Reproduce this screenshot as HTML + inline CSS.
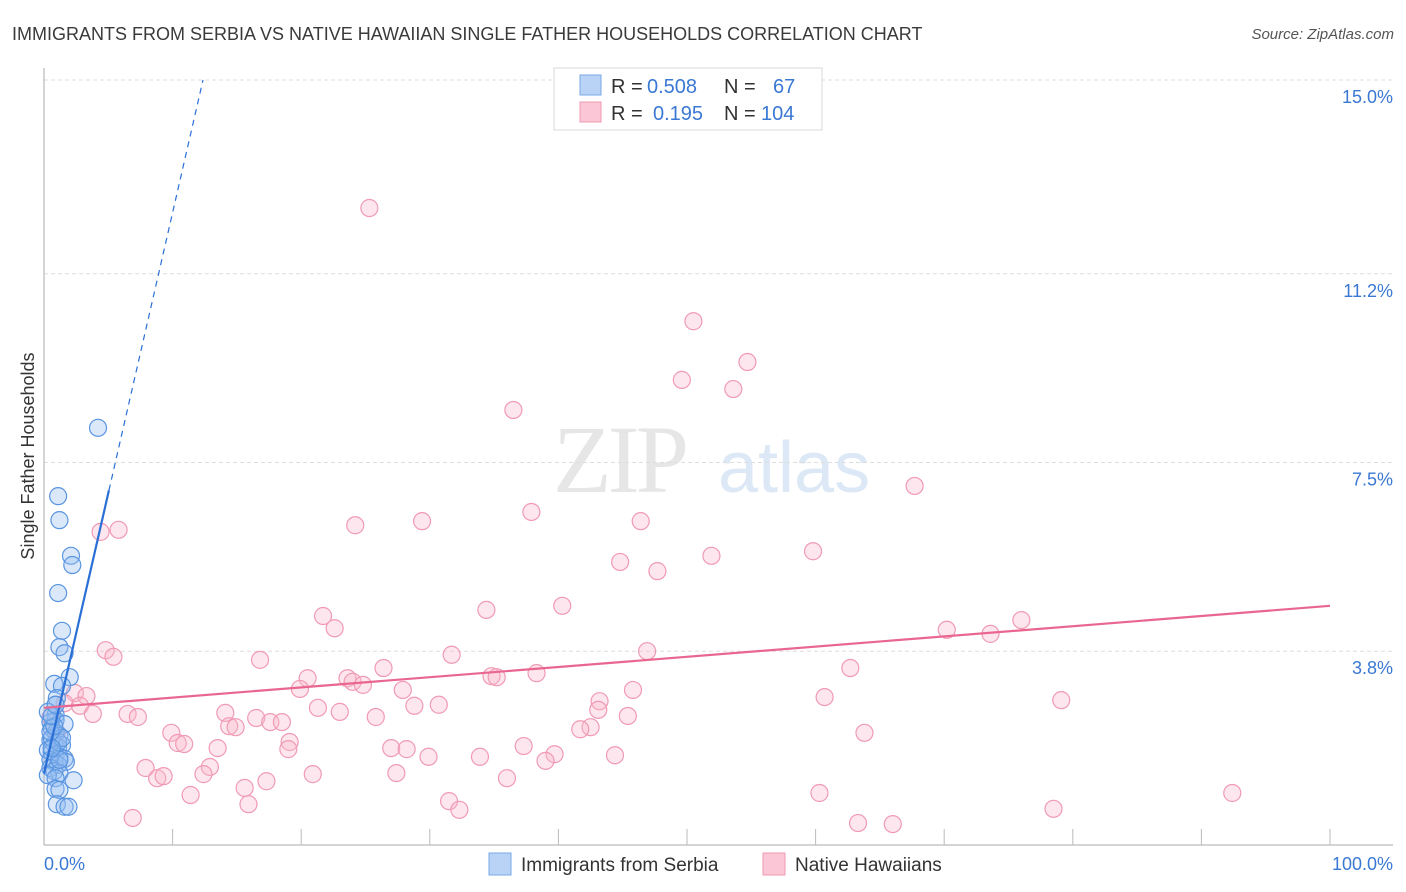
<!DOCTYPE html>
<html><head><meta charset="utf-8"><style>
body{margin:0;background:#fff;font-family:"Liberation Sans",sans-serif;}
svg{display:block}
</style></head><body>
<svg id="chart" width="1406" height="892" xmlns="http://www.w3.org/2000/svg" font-family="Liberation Sans, sans-serif">
<text x="12" y="40" font-size="18" fill="#3a3a3a">IMMIGRANTS FROM SERBIA VS NATIVE HAWAIIAN SINGLE FATHER HOUSEHOLDS CORRELATION CHART</text>
<text x="1394" y="39" font-size="15" fill="#555" font-style="italic" text-anchor="end">Source: ZipAtlas.com</text>
<text transform="translate(34,456) rotate(-90)" font-size="18" fill="#333" text-anchor="middle">Single Father Households</text>
<g>
<text x="553" y="492" font-family="Liberation Serif, serif" font-size="96" fill="#e6e6e6" letter-spacing="-4">ZIP</text>
<text x="718" y="492" font-size="72" fill="#dce8f6">atlas</text>
</g>
<g id="grid"></g>
<g id="axes"></g>
<g id="pinkpts"></g>
<g id="bluepts"></g>
<g id="lines"></g>
<g>
<rect x="554" y="68" width="268" height="62" fill="#fff" stroke="#d8d8d8"/>
<rect x="580" y="75" width="21" height="20" fill="#b8d3f5" stroke="#7aa9e6"/>
<rect x="580" y="102" width="21" height="20" fill="#fbc7d6" stroke="#ef9ab3"/>
<text y="93" font-size="20"><tspan x="611" fill="#333">R = </tspan><tspan x="647" fill="#3a78d4">0.508</tspan><tspan x="724" fill="#333">N = </tspan><tspan x="773" fill="#3a78d4">67</tspan></text>
<text y="120" font-size="20"><tspan x="611" fill="#333">R = </tspan><tspan x="653" fill="#3a78d4">0.195</tspan><tspan x="724" fill="#333">N = </tspan><tspan x="761" fill="#3a78d4">104</tspan></text>
</g>
<g>
<rect x="489" y="853" width="22" height="22" fill="#b8d3f5" stroke="#7aa9e6"/>
<text x="521" y="871" font-size="19" fill="#333">Immigrants from Serbia</text>
<rect x="763" y="853" width="22" height="22" fill="#fbc7d6" stroke="#ef9ab3"/>
<text x="795" y="871" font-size="19" fill="#333">Native Hawaiians</text>
</g>
</svg>
<script>
const yTicks=[15.0,11.2,7.5,3.8];
const yTickLabels=["15.0%","11.2%","7.5%","3.8%"];
const xTickLabels=["0.0%","100.0%"];
const pinkX=[25.3,50.5,54.7,49.6,53.6,36.5,67.7,37.9,24.2,29.4,46.4,4.4,5.8,59.8,51.9,44.8,47.7,40.3,34.4,21.7,22.6,76.0,70.2,73.6,4.8,5.4,16.8,31.7,46.9,26.4,62.7,20.5,23.6,24.0,24.8,38.3,34.8,35.2,19.9,27.9,45.8,2.4,3.3,60.7,43.2,79.1,28.8,30.7,21.3,1.6,2.8,3.8,43.1,23.0,6.5,7.3,14.1,16.5,17.6,18.5,25.8,45.4,14.4,14.9,42.5,41.7,9.9,63.8,10.4,10.9,19.1,13.5,19.0,27.0,28.2,37.3,39.7,44.4,29.9,33.9,39.0,7.9,12.9,8.8,9.3,12.4,20.9,17.3,15.6,27.4,36.0,11.4,60.3,92.4,31.5,32.3,15.9,78.5,6.9,63.3,66.0,0.5,1.0];
const pinkY=[12.49,10.27,9.47,9.12,8.94,8.53,7.04,6.53,6.27,6.35,6.35,6.14,6.18,5.76,5.67,5.55,5.37,4.69,4.61,4.49,4.25,4.41,4.22,4.14,3.82,3.69,3.63,3.73,3.80,3.47,3.47,3.27,3.27,3.20,3.14,3.37,3.31,3.29,3.06,3.04,3.04,2.98,2.92,2.90,2.82,2.84,2.73,2.75,2.69,2.78,2.73,2.57,2.65,2.61,2.57,2.51,2.59,2.49,2.41,2.41,2.51,2.53,2.33,2.31,2.31,2.27,2.20,2.20,2.00,1.98,2.02,1.90,1.88,1.90,1.88,1.94,1.78,1.76,1.73,1.73,1.65,1.51,1.53,1.31,1.35,1.39,1.39,1.25,1.12,1.41,1.31,0.98,1.02,1.02,0.86,0.69,0.80,0.71,0.53,0.43,0.41,2.5,2.2];
const blueX=[4.2,1.1,1.2,2.1,2.2,1.1,1.4,1.2,1.6,2.0,0.8,1.4,1.0,0.9,0.9,0.9,1.6,0.5,0.6,0.9,1.2,0.5,0.8,1.1,1.4,0.3,0.6,0.9,1.2,1.6,0.5,0.8,1.1,1.7,0.5,0.8,1.2,0.3,0.9,2.3,0.9,1.2,1.0,1.6,1.9,0.6,1.1,1.4,0.5,0.8,0.3,0.6,0.9,1.2,0.6];
const blueY=[8.18,6.84,6.37,5.67,5.49,4.94,4.20,3.88,3.76,3.29,3.16,3.12,2.88,2.75,2.55,2.45,2.37,2.41,2.29,2.20,2.14,2.06,1.98,1.92,1.96,1.86,1.82,1.76,1.73,1.69,1.67,1.63,1.57,1.63,1.51,1.45,1.41,1.37,1.31,1.27,1.10,1.08,0.80,0.75,0.75,2.10,2.02,2.10,2.22,2.33,2.61,2.53,2.75,1.67,1.90];
const blueTrend=[1.4,1.1];   // intercept, slope
const pinkTrend=[2.69,0.02];
const NS="http://www.w3.org/2000/svg";
const X0=44,X1=1330,Y0=845;
function sx(v){return X0+v*(X1-X0)/100;}
function sy(v){return Y0-v*51.0;}
function mk(tag,attrs,parent){const e=document.createElementNS(NS,tag);for(const k in attrs)e.setAttribute(k,attrs[k]);parent.appendChild(e);return e;}
const grid=document.getElementById('grid');
yTicks.forEach((t,i)=>{
 const l=mk('line',{x1:X0,x2:1393,y1:sy(t),y2:sy(t),stroke:'#ddd','stroke-dasharray':'4,3'},grid);
 
 
 const tx=mk('text',{x:1393,y:sy(t)+23,'font-size':18,fill:'#3a78d4','text-anchor':'end'},grid);
 tx.textContent=yTickLabels[i];
 
 
});
const axes=document.getElementById('axes');
const ya=mk('line',{x1:X0,x2:X0,y1:68,y2:Y0,stroke:'#aaa'},axes);


const xa=mk('line',{x1:X0,x2:1393,y1:Y0,y2:Y0,stroke:'#aaa'},axes);


for(let i=1;i<=10;i++){
 const t=mk('line',{x1:sx(i*10),x2:sx(i*10),y1:Y0-16,y2:Y0,stroke:'#bbb'},axes);
 
 
}
const xl0=mk('text',{x:44,y:870,'font-size':18,fill:'#3a78d4'},axes);
xl0.textContent=xTickLabels[0];


const xl1=mk('text',{x:1393,y:870,'font-size':18,fill:'#3a78d4','text-anchor':'end'},axes);
xl1.textContent=xTickLabels[1];


const pg=document.getElementById('pinkpts');
pinkX.forEach((x,i)=>{
 const c=mk('circle',{cx:sx(x),cy:sy(pinkY[i]),r:8.5,fill:'rgba(249,182,204,0.35)',stroke:'#f09ab5','stroke-width':1.2},pg);
 
 
});
const bg=document.getElementById('bluepts');
blueX.forEach((x,i)=>{
 const c=mk('circle',{cx:sx(x),cy:sy(blueY[i]),r:8.5,fill:'rgba(150,190,240,0.35)',stroke:'#5a95e0','stroke-width':1.2},bg);
 
 
});
const lg=document.getElementById('lines');
const bMax=Math.max(...blueX)+0.85;
const bl=mk('line',{x1:sx(0),y1:sy(blueTrend[0]),x2:sx(bMax),y2:sy(blueTrend[0]+blueTrend[1]*bMax),stroke:'#2a6fd6','stroke-width':2.2},lg);


const xEnd=(15-blueTrend[0])/blueTrend[1];
const bd=mk('line',{x1:sx(bMax),y1:sy(blueTrend[0]+blueTrend[1]*bMax),x2:sx(xEnd),y2:sy(15),stroke:'#2a6fd6','stroke-width':1.2,'stroke-dasharray':'6,5'},lg);


const pl=mk('line',{x1:sx(0),y1:sy(pinkTrend[0]),x2:sx(100),y2:sy(pinkTrend[0]+pinkTrend[1]*100),stroke:'#e8668f','stroke-width':2.2},lg);


</script>
</body></html>
